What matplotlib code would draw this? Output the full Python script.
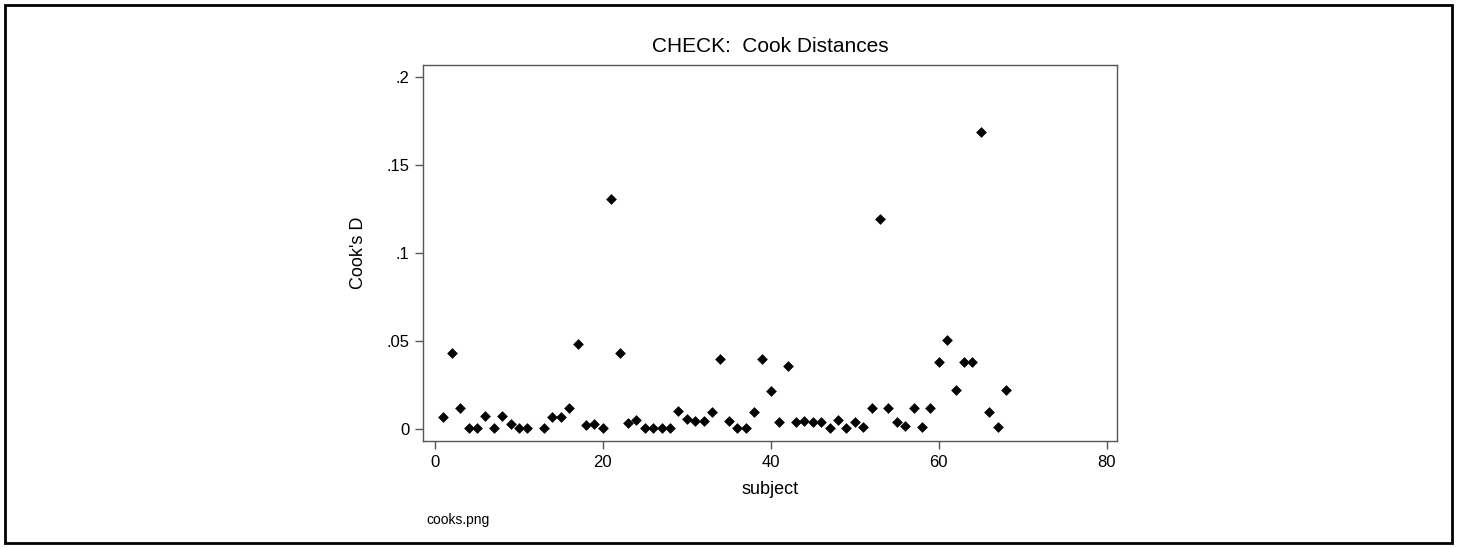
import matplotlib
matplotlib.use("Agg")
import matplotlib.pyplot as plt
from matplotlib.patches import Rectangle

plt.rcParams['font.family'] = ['Liberation Sans', 'DejaVu Sans']

# subject number and Cook's distance (subject 12 has no value)
subject = [1, 2, 3, 4, 5, 6, 7, 8, 9, 10, 11, 13, 14, 15, 16, 17, 18, 19, 20,
           21, 22, 23, 24, 25, 26, 27, 28, 29, 30, 31, 32, 33, 34, 35, 36, 37,
           38, 39, 40, 41, 42, 43, 44, 45, 46, 47, 48, 49, 50, 51, 52, 53, 54,
           55, 56, 57, 58, 59, 60, 61, 62, 63, 64, 65, 66, 67, 68]
cooks_d = [0.0071, 0.0430, 0.0122, 0.0005, 0.0005, 0.0075, 0.0005, 0.0075,
           0.0028, 0.0005, 0.0005, 0.0005, 0.0071, 0.0071, 0.0122, 0.0484,
           0.0024, 0.0028, 0.0005, 0.1305, 0.0430, 0.0033, 0.0052, 0.0005,
           0.0005, 0.0005, 0.0005, 0.0105, 0.0056, 0.0045, 0.0045, 0.0096,
           0.0397, 0.0045, 0.0005, 0.0005, 0.0099, 0.0397, 0.0217, 0.0039,
           0.0360, 0.0039, 0.0048, 0.0039, 0.0039, 0.0005, 0.0052, 0.0005,
           0.0039, 0.0014, 0.0118, 0.1193, 0.0118, 0.0043, 0.0018, 0.0118,
           0.0014, 0.0118, 0.0383, 0.0506, 0.0222, 0.0383, 0.0383, 0.1685,
           0.0099, 0.0014, 0.0220]

xticks = [0, 20, 40, 60, 80]
yticks = [0, 0.05, 0.1, 0.15, 0.2]
ytick_labels = ['0', '.05', '.1', '.15', '.2']

fig = plt.figure(figsize=(14.58, 5.48), dpi=100)
ax = fig.add_axes([0.2903, 0.1958, 0.4760, 0.6856])

ax.scatter(subject, cooks_d, marker='D', s=30, color='black', linewidths=0)

ax.set_xlim(-1.39, 81.26)
ax.set_ylim(-0.0065, 0.2066)
ax.set_xticks(xticks)
ax.set_xticklabels([str(t) for t in xticks])
ax.set_yticks(yticks)
ax.set_yticklabels(ytick_labels)
ax.tick_params(axis='both', length=6, width=1, color='#555555',
               labelsize=12, pad=4)

for sp in ax.spines.values():
    sp.set_color('#555555')
    sp.set_linewidth(1)

ax.set_title('CHECK:  Cook Distances', fontsize=15, pad=9.5)
ax.set_xlabel('subject', fontsize=13, labelpad=8)
ax.set_ylabel("Cook's D", fontsize=13, labelpad=14)

fig.text(426.7 / 1458, 1 - 524 / 548, 'cooks.png', fontsize=10,
         ha='left', va='baseline')

# outer frame round the whole picture
fig.patches.append(Rectangle((5 / 1458, 5 / 548), 1447 / 1458, 538 / 548,
                             transform=fig.transFigure, fill=False,
                             edgecolor='black', linewidth=2))

fig.savefig('out.png', dpi=100)
